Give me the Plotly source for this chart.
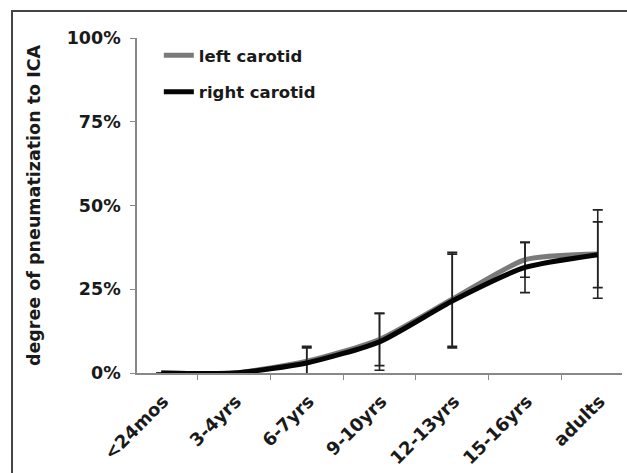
import plotly.graph_objects as go

categories = ["<24mos", "3-4yrs", "6-7yrs", "9-10yrs", "12-13yrs", "15-16yrs", "adults"]
left_carotid = [0.0, 0.0, 0.035, 0.100, 0.220, 0.338, 0.355]
left_err = [0.0, 0.0, 0.045, 0.078, 0.140, 0.052, 0.132]
right_carotid = [0.0, 0.0, 0.030, 0.093, 0.215, 0.315, 0.353]
right_err = [0.0, 0.0, 0.045, 0.085, 0.140, 0.075, 0.098]

FONT = dict(family="DejaVu Sans, sans-serif", color="#1a1a1a", weight="bold")

fig = go.Figure()
fig.add_trace(go.Scatter(
    x=categories, y=left_carotid, name="left carotid", mode="lines",
    line=dict(color="#7a7a7a", width=5, shape="spline", smoothing=0.6),
    error_y=dict(type="data", array=left_err, color="#222222", thickness=1.6, width=5),
    legendgroup="a",
))
fig.add_trace(go.Scatter(
    x=categories, y=right_carotid, name="right carotid", mode="lines",
    line=dict(color="#050505", width=5, shape="spline", smoothing=0.6),
    error_y=dict(type="data", array=right_err, color="#222222", thickness=1.6, width=5),
    legendgroup="b",
))

fig.update_layout(
    width=627, height=473,
    margin=dict(l=137, r=5, t=38, b=100),
    paper_bgcolor="white", plot_bgcolor="white",
    font=dict(size=17, **FONT),
    legend=dict(x=0.045, y=1.0, xanchor="left", yanchor="top",
                font=dict(size=16.5, **FONT), bgcolor="rgba(0,0,0,0)",
                tracegroupgap=12, traceorder="grouped", itemwidth=30),
    xaxis=dict(
        type="category", tickangle=-45, tickson="boundaries",
        ticks="outside", ticklen=5, tickcolor="#888888",
        showline=True, linecolor="#888888", linewidth=1.5,
        showgrid=False, zeroline=False, ticklabelstandoff=9, ticklabelshift=2,
        tickfont=dict(size=18, **FONT),
    ),
    yaxis=dict(
        range=[0, 1], tickvals=[0, 0.25, 0.5, 0.75, 1.0],
        tickformat=".0%", ticks="outside", ticklen=5, tickcolor="#888888",
        showline=True, linecolor="#888888", linewidth=1.5,
        showgrid=False, zeroline=False, ticklabelstandoff=6,
        tickfont=dict(size=17.5, **FONT),
        title=dict(text="degree of pneumatization to ICA", font=dict(size=17.5, **FONT), standoff=22),
    ),
    shapes=[dict(type="rect", xref="paper", yref="paper",
                 x0=-0.2577, x1=1.2, y0=-0.5, y1=1.0806,
                 line=dict(color="#444444", width=2), layer="below")],
)

fig.write_html("out.html")
